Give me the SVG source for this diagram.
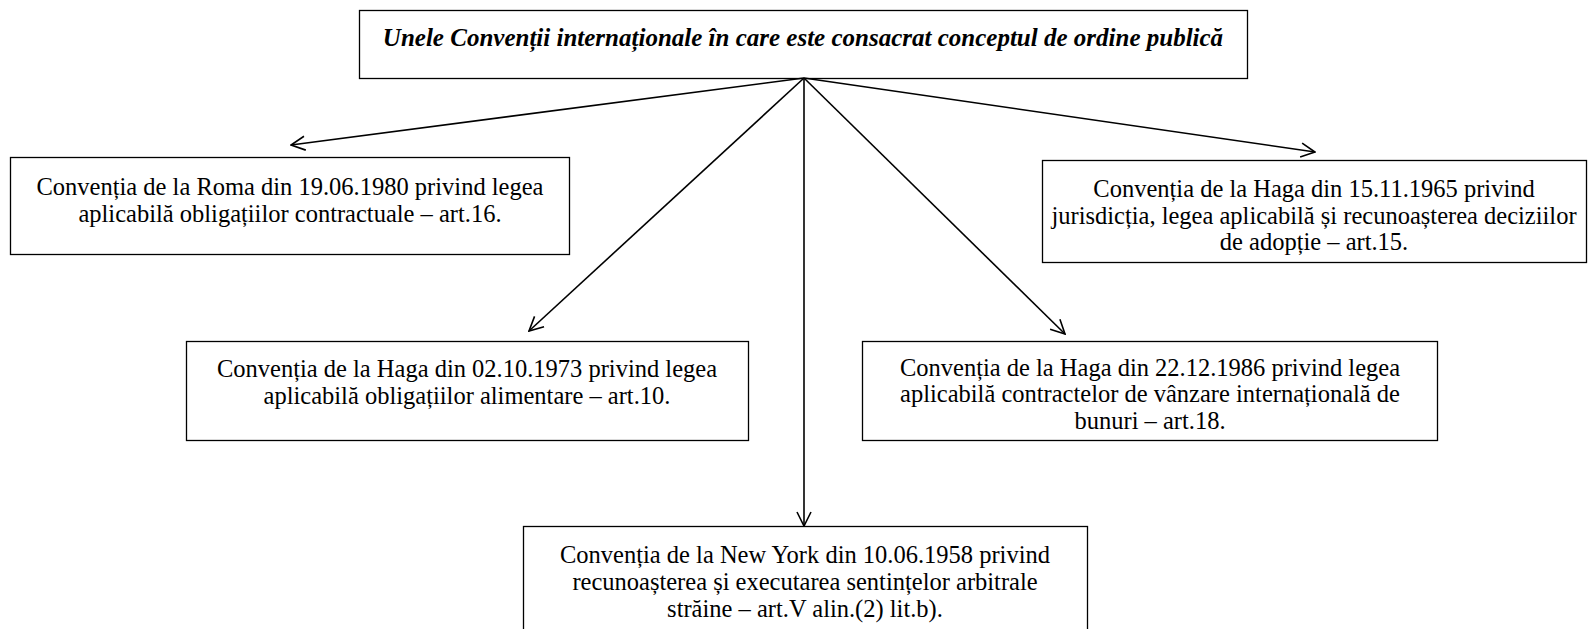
<svg xmlns="http://www.w3.org/2000/svg" width="1588" height="629" viewBox="0 0 1588 629">
<defs>
<marker id="arr" viewBox="0 0 16 16" refX="15" refY="8" markerWidth="16" markerHeight="16" markerUnits="userSpaceOnUse" orient="auto">
<path d="M1,1 L15,8 L1,15" fill="none" stroke="#000" stroke-width="1.6"/>
</marker>
<style>
.box{fill:#fff;stroke:#000;stroke-width:1.3}
.t{font-family:"Liberation Serif","Times New Roman",serif;font-size:24.5px;fill:#000;text-anchor:middle}
.h{font-weight:bold;font-style:italic;font-size:25px}
.c{stroke:#000;stroke-width:1.6;fill:none;marker-end:url(#arr)}
</style>
</defs>
<rect width="1588" height="629" fill="#fff"/>
<g id="n0">
<rect class="box" x="359.5" y="10.5" width="888" height="68"/>
<text class="t h" x="803" y="46">Unele Convenții internaționale în care este consacrat conceptul de ordine publică</text>
</g>
<g id="n1">
<rect class="box" x="10.5" y="157.5" width="559" height="97"/>
<text class="t" x="290" y="195">Convenția de la Roma din 19.06.1980 privind legea</text>
<text class="t" x="290" y="221.5">aplicabilă obligațiilor contractuale – art.16.</text>
</g>
<g id="n2">
<rect class="box" x="1042.5" y="160.5" width="544" height="102"/>
<text class="t" x="1314" y="197">Convenția de la Haga din 15.11.1965 privind</text>
<text class="t" x="1314" y="223.5">jurisdicția, legea aplicabilă și recunoașterea deciziilor</text>
<text class="t" x="1314" y="250">de adopție – art.15.</text>
</g>
<g id="n3">
<rect class="box" x="186.5" y="341.5" width="562" height="99"/>
<text class="t" x="467" y="377">Convenția de la Haga din 02.10.1973 privind legea</text>
<text class="t" x="467" y="404">aplicabilă obligațiilor alimentare – art.10.</text>
</g>
<g id="n4">
<rect class="box" x="862.5" y="341.5" width="575" height="99"/>
<text class="t" x="1150" y="375.5">Convenția de la Haga din 22.12.1986 privind legea</text>
<text class="t" x="1150" y="402">aplicabilă contractelor de vânzare internațională de</text>
<text class="t" x="1150" y="428.5">bunuri – art.18.</text>
</g>
<g id="n5">
<rect class="box" x="523.5" y="526.5" width="564" height="110"/>
<text class="t" x="805" y="563">Convenția de la New York din 10.06.1958 privind</text>
<text class="t" x="805" y="590">recunoașterea și executarea sentințelor arbitrale</text>
<text class="t" x="805" y="616.5">străine – art.V alin.(2) lit.b).</text>
</g>
<g id="connectors">
<line class="c" x1="804" y1="78" x2="291" y2="145"/>
<line class="c" x1="804" y1="78" x2="1315" y2="152"/>
<line class="c" x1="804" y1="78" x2="529" y2="331"/>
<line class="c" x1="804" y1="78" x2="1065" y2="334"/>
<line class="c" x1="804" y1="78" x2="804" y2="526"/>
</g>
</svg>
